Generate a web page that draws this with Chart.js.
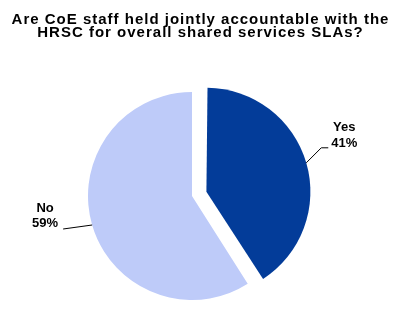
<!DOCTYPE html>
<html>
<head>
<meta charset="utf-8">
<script src="https://cdn.jsdelivr.net/npm/chart.js@4/dist/chart.umd.min.js"></script>
<style>
  body { margin: 0; background: #fff; }
</style>
</head>
<body>
<canvas id="chartSla" width="400" height="331"></canvas>
<script>
const categories = ["Yes", "No"];
const percentValues = [41, 59];
const sliceColors = ["#033c99", "#becbf9"];

const titleLines = [
  "Are CoE staff held jointly accountable with the",
  "HRSC for overall shared services SLAs?",
];

const fontFamily = "'Liberation Sans', Arial, sans-serif";

// chart.js v4 moves an offset arc by offset/4 and also grows its radius a bit
function arcShift(arc) {
  const shift = (arc.options.offset || 0) / 4;
  const fix = 1 - Math.sin(Math.min(Math.PI, arc.circumference || 0));
  return { shift: shift, grow: shift * fix };
}

// keep the exploded slice the same radius as the other one
const keepRadius = {
  id: "keepRadius",
  afterDatasetUpdate(chart) {
    chart.getDatasetMeta(0).data.forEach((arc) => {
      arc.outerRadius -= arcShift(arc).grow;
    });
  },
};

// two-line title drawn across the full canvas width
const titleBlock = {
  id: "titleBlock",
  afterDraw(chart) {
    const ctx = chart.ctx;
    ctx.save();
    ctx.fillStyle = "#000";
    ctx.font = "bold 15px " + fontFamily;
    ctx.letterSpacing = "1px";
    ctx.textAlign = "center";
    ctx.textBaseline = "alphabetic";
    titleLines.forEach((line, i) => {
      ctx.fillText(line, chart.width / 2 + 0.5, 23.5 + i * 13.5);
    });
    ctx.restore();
  },
};

// leader lines + labels, offsets relative to the point on the slice edge
const leaderLabels = {
  id: "leaderLabels",
  afterDatasetsDraw(chart) {
    const ctx = chart.ctx;
    const meta = chart.getDatasetMeta(0);
    const guides = [
      { elbow: [15, -15], end: [22, -15], text: [38, -35] },
      { elbow: [-29, 4], end: [-29, 4], text: [-47, -17] },
    ];
    meta.data.forEach((arc, i) => {
      const s = arcShift(arc);
      const mid = (arc.startAngle + arc.endAngle) / 2;
      const r = arc.outerRadius + s.grow;
      const ex = arc.x + Math.cos(mid) * (s.shift + r);
      const ey = arc.y + Math.sin(mid) * (s.shift + r);
      const g = guides[i];

      ctx.save();
      ctx.strokeStyle = "#000";
      ctx.lineWidth = 1;
      ctx.beginPath();
      ctx.moveTo(ex, ey);
      ctx.lineTo(ex + g.elbow[0], ey + g.elbow[1]);
      ctx.lineTo(ex + g.end[0], ey + g.end[1]);
      ctx.stroke();

      ctx.fillStyle = "#000";
      ctx.font = "bold 13px " + fontFamily;
      ctx.textAlign = "center";
      ctx.textBaseline = "middle";
      const tx = ex + g.text[0];
      const ty = ey + g.text[1];
      ctx.fillText(categories[i], tx, ty);
      ctx.fillText(percentValues[i] + "%", tx, ty + 15.5);
      ctx.restore();
    });
  },
};

const ctx = document.getElementById("chartSla").getContext("2d");
const myChart = new Chart(ctx, {
  type: "pie",
  data: {
    labels: categories,
    datasets: [
      {
        data: percentValues,
        backgroundColor: sliceColors,
        borderWidth: 0,
        offset: [60, 0],
        hoverOffset: 0,
      },
    ],
  },
  options: {
    responsive: false,
    animation: false,
    layout: {
      padding: { left: 58, right: 74, top: 62, bottom: 1 },
    },
    plugins: {
      legend: { display: false },
      tooltip: { enabled: false },
      title: { display: false },
    },
  },
  plugins: [keepRadius, leaderLabels, titleBlock],
});
</script>
</body>
</html>
